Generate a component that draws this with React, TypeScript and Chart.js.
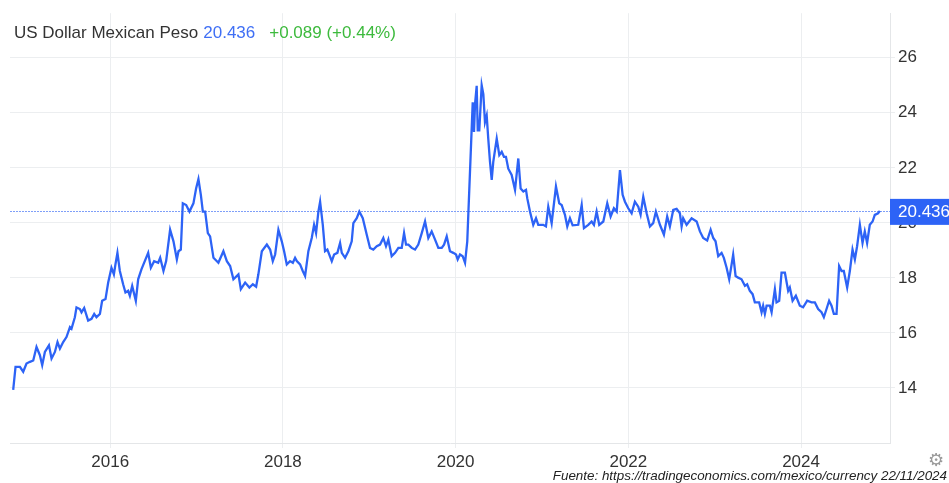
import React, { useEffect, useRef } from "react";
import { Chart, registerables } from "chart.js";

Chart.register(...registerables);

// Decimal-year dates and USD/MXN closing values
const dates = [
  2014.877, 2014.904, 2014.955, 2014.993, 2015.031, 2015.071, 2015.109, 2015.147, 2015.186, 2015.213,
  2015.244, 2015.291, 2015.321, 2015.360, 2015.390, 2015.418, 2015.456, 2015.494, 2015.534, 2015.552,
  2015.591, 2015.610, 2015.649, 2015.668, 2015.699, 2015.745, 2015.784, 2015.815, 2015.841, 2015.881,
  2015.907, 2015.946, 2015.977, 2016.015, 2016.043, 2016.061, 2016.084, 2016.112, 2016.150, 2016.177,
  2016.208, 2016.228, 2016.255, 2016.297, 2016.324, 2016.362, 2016.440, 2016.471, 2016.509, 2016.556,
  2016.579, 2016.617, 2016.648, 2016.694, 2016.733, 2016.772, 2016.791, 2016.818, 2016.841, 2016.880,
  2016.918, 2016.964, 2016.995, 2017.022, 2017.050, 2017.073, 2017.100, 2017.131, 2017.157, 2017.196,
  2017.253, 2017.311, 2017.351, 2017.389, 2017.427, 2017.485, 2017.513, 2017.563, 2017.612, 2017.652,
  2017.690, 2017.716, 2017.756, 2017.814, 2017.852, 2017.883, 2017.910, 2017.948, 2017.987, 2018.014,
  2018.045, 2018.083, 2018.115, 2018.141, 2018.161, 2018.199, 2018.230, 2018.257, 2018.295, 2018.334,
  2018.361, 2018.384, 2018.411, 2018.431, 2018.462, 2018.488, 2018.515, 2018.566, 2018.593, 2018.631,
  2018.662, 2018.682, 2018.720, 2018.758, 2018.797, 2018.816, 2018.855, 2018.885, 2018.925, 2018.971,
  2019.009, 2019.047, 2019.087, 2019.125, 2019.163, 2019.194, 2019.221, 2019.260, 2019.299, 2019.337,
  2019.376, 2019.403, 2019.426, 2019.453, 2019.492, 2019.530, 2019.568, 2019.608, 2019.646, 2019.684,
  2019.723, 2019.762, 2019.800, 2019.839, 2019.866, 2019.897, 2019.935, 2019.973, 2020.005, 2020.024,
  2020.051, 2020.082, 2020.109, 2020.135, 2020.198, 2020.213, 2020.225, 2020.244, 2020.256, 2020.274,
  2020.302, 2020.321, 2020.340, 2020.360, 2020.378, 2020.398, 2020.418, 2020.436, 2020.476, 2020.506,
  2020.534, 2020.560, 2020.583, 2020.610, 2020.649, 2020.688, 2020.726, 2020.753, 2020.784, 2020.815,
  2020.830, 2020.861, 2020.899, 2020.931, 2020.957, 2021.015, 2021.046, 2021.073, 2021.112, 2021.162,
  2021.200, 2021.228, 2021.266, 2021.293, 2021.324, 2021.355, 2021.420, 2021.460, 2021.486, 2021.536,
  2021.575, 2021.602, 2021.633, 2021.663, 2021.710, 2021.756, 2021.795, 2021.833, 2021.865, 2021.903,
  2021.934, 2021.961, 2021.999, 2022.038, 2022.076, 2022.115, 2022.142, 2022.173, 2022.212, 2022.250,
  2022.288, 2022.319, 2022.366, 2022.412, 2022.450, 2022.481, 2022.520, 2022.559, 2022.597, 2022.617,
  2022.635, 2022.675, 2022.733, 2022.791, 2022.829, 2022.867, 2022.913, 2022.953, 2022.983, 2023.010,
  2023.041, 2023.080, 2023.106, 2023.138, 2023.168, 2023.196, 2023.214, 2023.242, 2023.272, 2023.311,
  2023.350, 2023.376, 2023.407, 2023.439, 2023.465, 2023.515, 2023.543, 2023.561, 2023.581, 2023.601,
  2023.639, 2023.659, 2023.697, 2023.716, 2023.747, 2023.774, 2023.813, 2023.851, 2023.870, 2023.902,
  2023.940, 2023.986, 2024.024, 2024.071, 2024.122, 2024.160, 2024.198, 2024.237, 2024.264, 2024.295,
  2024.325, 2024.353, 2024.380, 2024.411, 2024.441, 2024.469, 2024.495, 2024.534, 2024.565, 2024.596,
  2024.623, 2024.649, 2024.681, 2024.712, 2024.738, 2024.765, 2024.796, 2024.828, 2024.854, 2024.892,
  2024.912,
];

const usdMxn = [
  13.93, 14.77, 14.77, 14.59, 14.89, 14.95, 15.0, 15.49, 15.19, 14.83,
  15.31, 15.55, 15.07, 15.31, 15.67, 15.43, 15.67, 15.85, 16.21, 16.15,
  16.57, 16.93, 16.87, 16.75, 16.91, 16.45, 16.51, 16.69, 16.57, 16.69,
  17.17, 17.23, 17.83, 18.37, 18.13, 18.49, 18.91, 18.25, 17.77, 17.47,
  17.53, 17.35, 17.71, 17.17, 17.95, 18.31, 18.91, 18.37, 18.61, 18.55,
  18.73, 18.25, 18.61, 19.75, 19.33, 18.67, 18.97, 19.03, 20.71, 20.65,
  20.41, 20.71, 21.25, 21.59, 21.02, 20.41, 20.41, 19.63, 19.51, 18.73,
  18.55, 18.97, 18.61, 18.43, 17.95, 18.13, 17.59, 17.83, 17.65, 17.77,
  17.68, 18.13, 18.97, 19.21, 19.03, 18.61, 18.85, 19.75, 19.33, 18.97,
  18.49, 18.61, 18.55, 18.73, 18.61, 18.49, 18.25, 18.07, 18.97, 19.45,
  19.93, 19.63, 20.41, 20.77, 19.93, 18.97, 19.03, 18.61, 18.85, 18.91,
  19.27, 18.91, 18.73, 18.97, 19.33, 19.99, 20.17, 20.41, 20.17, 19.57,
  19.09, 19.03, 19.15, 19.21, 19.45, 19.15, 19.39, 18.79, 18.91, 19.09,
  19.09, 19.63, 19.21, 19.21, 19.09, 19.03, 19.21, 19.63, 20.05, 19.45,
  19.69, 19.39, 19.09, 19.09, 19.21, 19.51, 18.97, 18.91, 18.85, 18.67,
  18.85, 18.79, 18.55, 19.33, 24.38, 23.3, 24.32, 24.98, 23.36, 23.36,
  25.0, 24.68, 23.66, 23.9, 23.06, 22.22, 21.56, 22.22, 23.06, 22.46,
  22.58, 22.4, 22.4, 21.97, 21.74, 21.2, 22.34, 21.25, 21.14, 21.2,
  20.89, 20.41, 19.93, 20.17, 19.93, 19.93, 19.87, 20.59, 19.99, 21.32,
  20.71, 20.65, 20.29, 19.87, 20.17, 19.91, 19.93, 20.65, 19.81, 19.93,
  20.05, 19.93, 20.41, 19.93, 20.05, 20.71, 20.23, 20.53, 20.41, 21.92,
  21.02, 20.77, 20.53, 20.35, 20.77, 20.59, 20.3, 20.95, 20.35, 19.87,
  19.99, 20.41, 19.93, 19.57, 20.23, 19.87, 20.47, 20.51, 20.35, 19.87,
  20.17, 19.93, 20.17, 20.05, 19.69, 19.45, 19.36, 19.75, 19.45, 19.33,
  18.79, 18.91, 18.73, 18.37, 17.95, 18.49, 18.85, 18.07, 18.01, 17.95,
  17.71, 17.77, 17.53, 17.41, 17.11, 17.11, 16.75, 16.99, 16.69, 16.99,
  16.99, 16.75, 17.59, 17.11, 17.17, 18.19, 18.19, 17.53, 17.65, 17.17,
  17.35, 16.99, 16.93, 17.17, 17.11, 17.11, 16.87, 16.75, 16.57, 16.87,
  17.17, 16.99, 16.69, 16.69, 18.43, 18.25, 18.25, 17.65, 18.25, 19.03,
  18.67, 19.15, 19.93, 19.27, 19.69, 19.27, 19.93, 20.05, 20.29, 20.35,
  20.436,
];

const xTickYears = [2016, 2018, 2020, 2022, 2024];
const yTickValues = [14, 16, 18, 20, 22, 24, 26];

const titleText = "US Dollar Mexican Peso";
const priceText = "20.436";
const changeText = "+0.089 (+0.44%)";
const sourceText = "Fuente: https://tradingeconomics.com/mexico/currency 22/11/2024";

const BLUE = "#2d63f6";
const FONT = "'Liberation Sans', Arial, Helvetica, sans-serif";

const lastPricePlugin = {
  id: "lastPrice",
  beforeDatasetsDraw(chart: any) {
    const { ctx, chartArea, scales } = chart;
    const v = usdMxn[usdMxn.length - 1];
    const y = Math.round(scales.y.getPixelForValue(v)) + 0.5;
    ctx.save();
    ctx.strokeStyle = "#7f9ff8";
    ctx.lineWidth = 1;
    ctx.setLineDash([2, 1]);
    ctx.beginPath();
    ctx.moveTo(chartArea.left, y);
    ctx.lineTo(chartArea.right, y);
    ctx.stroke();
    ctx.restore();
  },
  afterDraw(chart: any) {
    const { ctx, chartArea, scales } = chart;
    const v = usdMxn[usdMxn.length - 1];
    const y = scales.y.getPixelForValue(v);
    ctx.save();
    ctx.fillStyle = BLUE;
    ctx.fillRect(chartArea.right, y - 12, chart.width - chartArea.right, 26);
    ctx.fillStyle = "#ffffff";
    ctx.font = "17px " + FONT;
    ctx.textBaseline = "middle";
    ctx.textAlign = "left";
    ctx.fillText(v.toFixed(3), chartArea.right + 8, y + 1);
    ctx.restore();
  },
};

export default function App() {
  const canvasRef = useRef<HTMLCanvasElement | null>(null);

  useEffect(() => {
    if (!canvasRef.current) return;
    const chart = new Chart(canvasRef.current, {
      type: "line",
      data: {
        datasets: [
          {
            data: dates.map((d, i) => ({ x: d, y: usdMxn[i] })),
            borderColor: BLUE,
            borderWidth: 2.3,
            pointRadius: 0,
            tension: 0,
            fill: false,
          },
        ],
      },
      options: {
        animation: false,
        responsive: false,
        maintainAspectRatio: false,
        layout: { padding: { left: 10, top: 10, right: 0, bottom: 0 } },
        plugins: { legend: { display: false }, tooltip: { enabled: false } },
        scales: {
          x: {
            type: "linear",
            min: 2014.84,
            max: 2025.03,
            afterBuildTicks: (s: any) => {
              s.ticks = xTickYears.map((v) => ({ value: v }));
            },
            afterFit: (s: any) => {
              s.height = 40;
            },
            grid: { color: "#eceef0", lineWidth: 1, tickLength: 5, drawTicks: true },
            border: { color: "#e4e6e8" },
            ticks: {
              color: "#333333",
              font: { size: 17, family: FONT },
              padding: 4,
              maxRotation: 0,
              autoSkip: false,
              callback: (v: any) => String(v),
            },
          },
          y: {
            type: "linear",
            position: "right",
            min: 12,
            max: 27.62,
            afterBuildTicks: (s: any) => {
              s.ticks = yTickValues.map((v) => ({ value: v }));
            },
            afterFit: (s: any) => {
              s.width = 59;
            },
            grid: { color: "#eceef0", lineWidth: 1, tickLength: 5, drawTicks: true },
            border: { color: "#e4e6e8" },
            ticks: {
              color: "#333333",
              font: { size: 17, family: FONT },
              padding: 3,
              autoSkip: false,
              callback: (v: any) => String(v),
            },
          },
        },
      },
      plugins: [lastPricePlugin],
    });
    return () => chart.destroy();
  }, []);

  return (
    <div style={{ position: "absolute", left: 0, top: 0, width: 949, height: 483, background: "#fff", overflow: "hidden" }}>
      <canvas ref={canvasRef} width={949} height={483} style={{ display: "block" }} />
      <div
        style={{
          position: "absolute",
          left: 14,
          top: 23,
          fontFamily: FONT,
          fontSize: 17,
          color: "#333333",
          whiteSpace: "nowrap",
        }}
      >
        {titleText}
        <span style={{ color: "#3f6ff5", marginLeft: 5 }}>{priceText}</span>
        <span style={{ color: "#3dba3d", marginLeft: 14 }}>{changeText}</span>
      </div>
      <div
        style={{
          position: "absolute",
          left: 928,
          top: 449,
          fontSize: 18,
          color: "#9a9a9a",
          fontFamily: "'DejaVu Sans', sans-serif",
        }}
      >
        ⚙
      </div>
      <div
        style={{
          position: "absolute",
          right: 2,
          top: 468,
          fontFamily: "'Liberation Sans Narrow', 'Liberation Sans', Arial, sans-serif",
          fontStyle: "italic",
          fontSize: 13.4,
          color: "#222222",
          whiteSpace: "nowrap",
        }}
      >
        {sourceText}
      </div>
    </div>
  );
}
